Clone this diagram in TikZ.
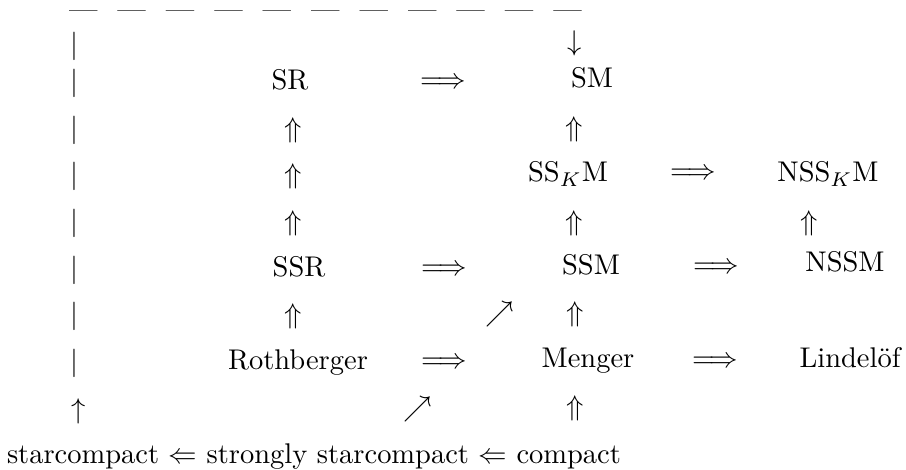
\documentclass[tikz,border=0pt]{standalone}
\usepackage{amssymb}
\begin{document}
\begin{tikzpicture}[x=0.351pt,y=-0.351pt,
  lbl/.style={inner sep=0pt,outer sep=0pt,anchor=base,font=\fontsize{10}{12}\selectfont},
  glyph/.style={lbl}]
\useasboundingbox (0,0) rectangle (906,470);
% top dashed line (typeset em dashes)
\def\dgap{\hspace{7pt}}
\node[lbl,anchor=base west] (dashes) at (69,19) {---\dgap---\dgap---\dgap---\dgap---\dgap---\dgap---\dgap---\dgap---\dgap---\dgap---};
% left column of bars
\foreach \y/\n in {54/1,90.5/2,138/3,184/4,231/5,278/6,324/7,371/8}
  \node[glyph] (bar\n) at (74,\y) {$|$};
\node[glyph] (up0) at (79,419) {$\uparrow$};
\node[glyph] (down0) at (575,51) {$\downarrow$};
% row SR
\node[lbl] (SR) at (290,90) {SR};
\node[glyph] (a1) at (443,89) {$\Longrightarrow$};
\node[lbl] (SM) at (592,88) {SM};
% row 3
\node[glyph] (u1) at (293,138) {$\Uparrow$};
\node[glyph] (u2) at (574,137) {$\Uparrow$};
% row SSKM
\node[glyph] (u3) at (293,184) {$\Uparrow$};
\node[lbl] (SSKM) at (568,182) {SS$_K$M};
\node[glyph] (a2) at (693,180) {$\Longrightarrow$};
\node[lbl] (NSSKM) at (828,182) {NSS$_K$M};
% row 5
\node[glyph] (u4) at (293,231) {$\Uparrow$};
\node[glyph] (u5) at (574,231) {$\Uparrow$};
\node[glyph] (u6) at (809,231) {$\Uparrow$};
% row SSR
\node[lbl] (SSR) at (299,277) {SSR};
\node[glyph] (a3) at (444,276) {$\Longrightarrow$};
\node[lbl] (SSM) at (591,275) {SSM};
\node[glyph] (a4) at (716,274) {$\Longrightarrow$};
\node[lbl] (NSSM) at (845,272) {NSSM};
% row 7
\node[glyph] (u7) at (293,324) {$\Uparrow$};
\node[glyph] (ne1) at (500,322) {$\nearrow$};
\node[glyph] (u8) at (575,322) {$\Uparrow$};
% row Rothberger
\node[lbl] (Roth) at (298,370) {Rothberger};
\node[glyph] (a5) at (444,369) {$\Longrightarrow$};
\node[lbl] (Menger) at (588,368) {Menger};
\node[glyph] (a6) at (715,368) {$\Longrightarrow$};
\node[lbl] (Lind) at (850,368) {Lindel\"of};
% row 9
\node[glyph] (ne2) at (418,417) {$\nearrow$};
\node[glyph] (u9) at (575,416) {$\Uparrow$};
% bottom row
\node[lbl,anchor=base west] (bottom) at (7,464) {starcompact $\Leftarrow$ strongly starcompact $\Leftarrow$ compact};
\end{tikzpicture}
\end{document}
